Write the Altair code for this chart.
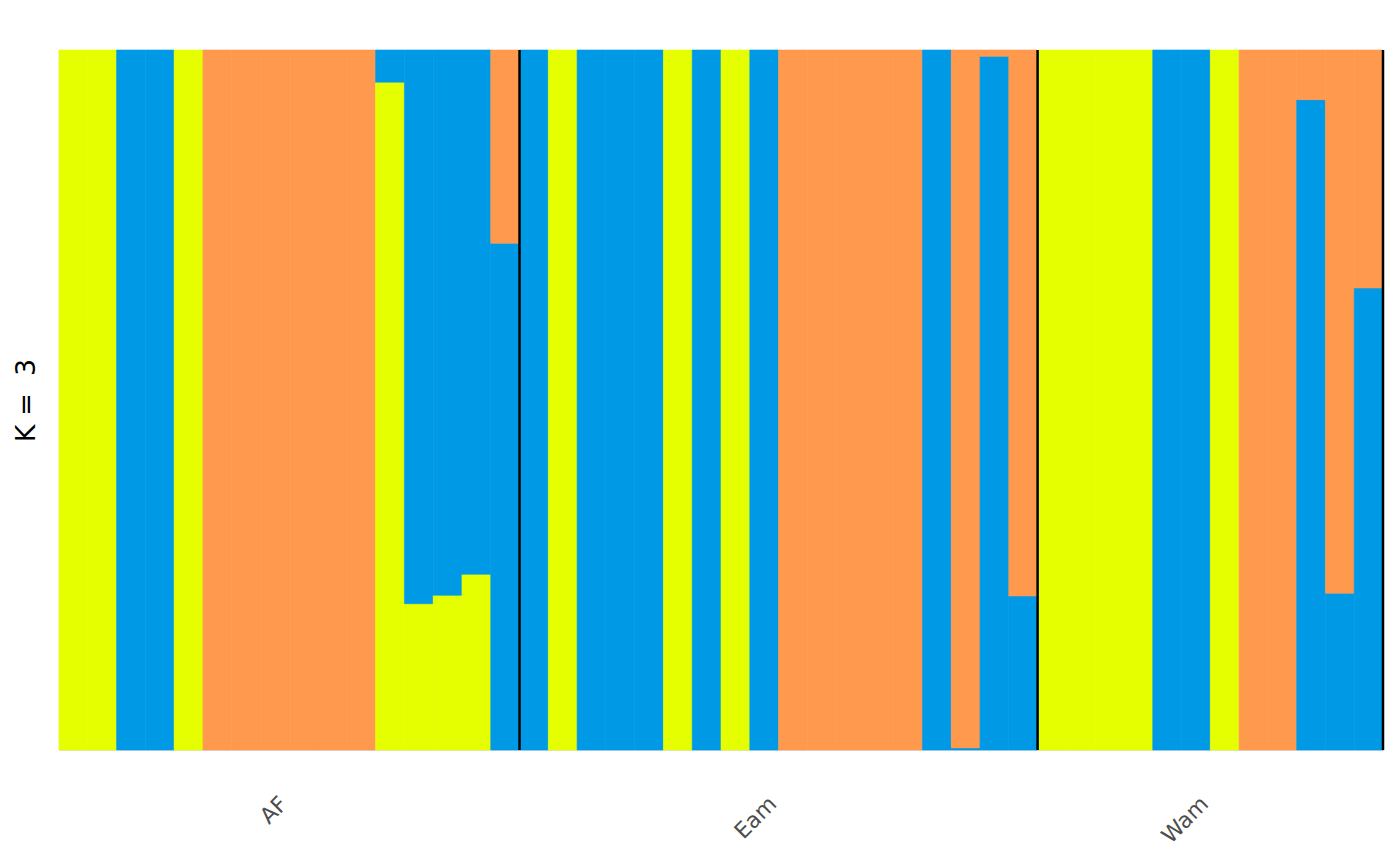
import altair as alt
import pandas as pd

groups = ["AF"] * 16 + ["Eam"] * 18 + ["Wam"] * 12
group_names = ["AF", "Eam", "Wam"]
group_sizes = [16, 18, 12]

# cluster memberships per individual (stacked bottom -> top: yellow, blue, orange)
yellow = [1, 1, 0, 0, 1, 0, 0, 0, 0, 0, 0, 0.954, 0.209, 0.221, 0.251, 0,
          0, 1, 0, 0, 0, 1, 0, 1, 0, 0, 0, 0, 0, 0, 0, 0, 0, 0,
          1, 1, 1, 1, 0, 0, 1, 0, 0, 0, 0, 0]
blue = [0, 0, 1, 1, 0, 0, 0, 0, 0, 0, 0, 0.046, 0.791, 0.779, 0.749, 0.724,
        1, 0, 1, 1, 1, 0, 1, 0, 1, 0, 0, 0, 0, 0, 1, 0.003, 0.991, 0.22,
        0, 0, 0, 0, 1, 1, 0, 0, 0, 0.929, 0.224, 0.66]
orange = [0, 0, 0, 0, 0, 1, 1, 1, 1, 1, 1, 0, 0, 0, 0, 0.276,
          0, 0, 0, 0, 0, 0, 0, 0, 0, 1, 1, 1, 1, 1, 0, 0.997, 0.009, 0.78,
          0, 0, 0, 0, 0, 0, 0, 1, 1, 0.071, 0.776, 0.34]

cluster_names = ["C1", "C2", "C3"]
cluster_colors = ["#E5FF00", "#0099E6", "#FF994D"]

rows = []
for i in range(len(groups)):
    for k, (name, vals) in enumerate(zip(cluster_names, [yellow, blue, orange])):
        rows.append({"ind": i, "ind_end": i + 1, "group": groups[i],
                     "cluster": name, "order": k, "value": vals[i]})
df = pd.DataFrame(rows)

bounds = []
acc = 0
centers = []
for n in group_sizes:
    centers.append(acc + n / 2)
    acc += n
    bounds.append(acc)
bdf = pd.DataFrame({"b": bounds})

total = len(groups)
label_expr = " : ".join(
    [f"datum.value == {c} ? '{g}'" for c, g in zip(centers, group_names)]
) + " : ''"

xscale = alt.Scale(domain=[0, total], nice=False, zero=False)
cscale = alt.Scale(domain=cluster_names, range=cluster_colors)

bars = alt.Chart(df).transform_stack(
    stack="value", groupby=["ind"], as_=["y0", "y1"],
    sort=[alt.SortField("order", order="ascending")]
).transform_filter("datum.value > 0").mark_rect(strokeWidth=0.6).encode(
    x=alt.X("ind:Q", scale=xscale,
            axis=alt.Axis(values=centers, labelExpr=label_expr, labelAngle=315,
                          labelAlign="right", labelBaseline="middle",
                          labelFontSize=22, labelColor="#4D4D4D",
                          labelFont="DejaVu Sans", labelPadding=50,
                          labelOffset=-6,
                          ticks=False, domain=False, grid=False, title=None)),
    x2="ind_end:Q",
    y=alt.Y("y0:Q", scale=alt.Scale(domain=[0, 1], nice=False),
            axis=alt.Axis(title="K =\u00a0\u00a03", labels=False, ticks=False, domain=False,
                          grid=False, titleFontSize=27, titleFont="DejaVu Sans",
                          titleFontWeight="normal", titleColor="#000000",
                          titlePadding=19)),
    y2="y1:Q",
    color=alt.Color("cluster:N", scale=cscale, legend=None),
    stroke=alt.Stroke("cluster:N", scale=cscale, legend=None),
)

rules = alt.Chart(bdf).mark_rule(color="#000000", strokeWidth=2.5).encode(
    x=alt.X("b:Q", scale=xscale),
)

chart = alt.layer(bars, rules).properties(
    width=1324, height=700,
    autosize=alt.AutoSizeParams(type="none"),
    padding={"left": 59, "top": 50, "right": 17, "bottom": 115},
).configure_view(stroke=None).configure(background="#FFFFFF")

chart.save("out.html", embed_options={"renderer": "svg", "actions": False})
